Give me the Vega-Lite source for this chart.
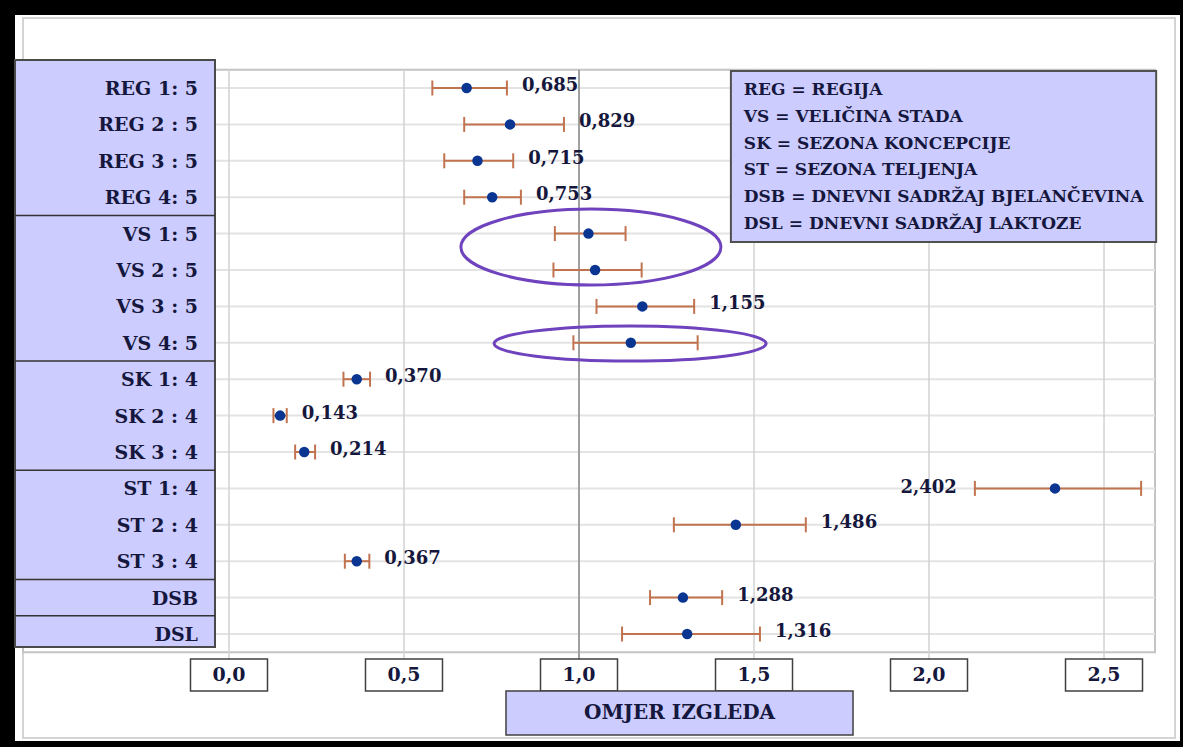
{
  "$schema": "https://vega.github.io/schema/vega-lite/v6.json",
  "width": 1165,
  "height": 726,
  "autosize": {"type": "none"},
  "padding": {"left": 15, "top": 15, "right": 3, "bottom": 6},
  "background": "black",
  "view": {"fill": "white", "stroke": null},
  "config": {"text": {"font": "DejaVu Serif", "fontWeight": "bold", "color": "#15173d"}},
  "datasets": {
    "rows": [
      {"label": "REG  1: 5", "grp": "REG", "or": 0.679, "lo": 0.581, "hi": 0.794, "txt": "0,685"},
      {"label": "REG 2 : 5", "grp": "REG", "or": 0.803, "lo": 0.672, "hi": 0.957, "txt": "0,829"},
      {"label": "REG 3 : 5", "grp": "REG", "or": 0.710, "lo": 0.615, "hi": 0.812, "txt": "0,715"},
      {"label": "REG  4: 5", "grp": "REG", "or": 0.752, "lo": 0.672, "hi": 0.834, "txt": "0,753"},
      {"label": "VS  1: 5", "grp": "VS", "or": 1.027, "lo": 0.931, "hi": 1.133, "txt": ""},
      {"label": "VS  2 : 5", "grp": "VS", "or": 1.046, "lo": 0.927, "hi": 1.179, "txt": ""},
      {"label": "VS  3 : 5", "grp": "VS", "or": 1.181, "lo": 1.050, "hi": 1.329, "txt": "1,155"},
      {"label": "VS  4: 5", "grp": "VS", "or": 1.148, "lo": 0.984, "hi": 1.339, "txt": ""},
      {"label": "SK   1: 4", "grp": "SK", "or": 0.365, "lo": 0.327, "hi": 0.403, "txt": "0,370"},
      {"label": "SK  2 : 4", "grp": "SK", "or": 0.146, "lo": 0.127, "hi": 0.165, "txt": "0,143"},
      {"label": "SK  3 : 4", "grp": "SK", "or": 0.215, "lo": 0.189, "hi": 0.246, "txt": "0,214"},
      {"label": "ST   1: 4", "grp": "ST", "or": 2.360, "lo": 2.131, "hi": 2.606, "txt": "2,402"},
      {"label": "ST  2 : 4", "grp": "ST", "or": 1.448, "lo": 1.271, "hi": 1.648, "txt": "1,486"},
      {"label": "ST  3 : 4", "grp": "ST", "or": 0.365, "lo": 0.331, "hi": 0.401, "txt": "0,367"},
      {"label": "DSB", "grp": "DSB", "or": 1.297, "lo": 1.203, "hi": 1.409, "txt": "1,288"},
      {"label": "DSL", "grp": "DSL", "or": 1.309, "lo": 1.123, "hi": 1.517, "txt": "1,316"}
    ],
    "ticks": [
      {"tick": 0, "text": "0,0"},
      {"tick": 0.5, "text": "0,5"},
      {"tick": 1, "text": "1,0"},
      {"tick": 1.5, "text": "1,5"},
      {"tick": 2, "text": "2,0"},
      {"tick": 2.5, "text": "2,5"}
    ],
    "one": [{}]
  },
  "layer": [
    {
      "data": {"name": "one"},
      "mark": {"type": "rect", "fill": "transparent", "stroke": "#d4d4d4", "strokeWidth": 2},
      "encoding": {
        "x": {"datum": -0.5886, "type": "quantitative", "scale": {"domain": [-0.6114, 2.7171], "nice": false, "zero": false}, "axis": null},
        "x2": {"datum": 2.7029},
        "y": {"datum": "REG  1: 5", "type": "nominal", "bandPosition": -1.423, "axis": null,
              "scale": {"domain": ["REG  1: 5","REG 2 : 5","REG 3 : 5","REG  4: 5","VS  1: 5","VS  2 : 5","VS  3 : 5","VS  4: 5","SK   1: 4","SK  2 : 4","SK  3 : 4","ST   1: 4","ST  2 : 4","ST  3 : 4","DSB","DSL"],
                        "type": "band", "paddingInner": 0, "paddingOuter": 0, "range": [54.8, 637.2]}},
        "y2": {"datum": "DSL", "bandPosition": 3.357}
      }
    },
    {
      "data": {"name": "one"},
      "mark": {"type": "rect", "fill": "white", "stroke": "#c4c4c4", "strokeWidth": 2},
      "encoding": {
        "x": {"datum": -0.5886, "type": "quantitative", "axis": null},
        "x2": {"datum": 2.6457},
        "y": {"datum": "REG  1: 5", "type": "nominal", "bandPosition": 0.001, "axis": null},
        "y2": {"datum": "DSL", "bandPosition": 1}
      }
    },
    {
      "data": {"name": "rows"},
      "mark": {"type": "rule", "color": "#e3e3e3", "strokeWidth": 2},
      "encoding": {
        "x": {"datum": -0.5886, "type": "quantitative", "axis": null},
        "x2": {"datum": 2.6457},
        "y": {"field": "label", "type": "nominal", "axis": null}
      }
    },
    {
      "data": {"name": "ticks"},
      "mark": {"type": "rule"},
      "encoding": {
        "x": {"field": "tick", "type": "quantitative", "axis": null},
        "y": {"datum": "REG  1: 5", "type": "nominal", "bandPosition": 0.001, "axis": null},
        "y2": {"datum": "DSL", "bandPosition": 1.187},
        "color": {"condition": {"test": "datum.tick == 1", "value": "#a0a0a0"}, "value": "#d2d2d2"},
        "strokeWidth": {"condition": {"test": "datum.tick == 1", "value": 2}, "value": 1.5}
      }
    },
    {
      "data": {"name": "rows"},
      "mark": {"type": "rule", "color": "#c0734e", "strokeWidth": 2},
      "encoding": {
        "x": {"field": "lo", "type": "quantitative", "axis": null},
        "x2": {"field": "hi"},
        "y": {"field": "label", "type": "nominal", "axis": null}
      }
    },
    {
      "data": {"name": "rows"},
      "mark": {"type": "tick", "color": "#c0734e", "size": 15, "thickness": 2, "opacity": 1},
      "encoding": {
        "x": {"field": "lo", "type": "quantitative", "axis": null},
        "y": {"field": "label", "type": "nominal", "axis": null}
      }
    },
    {
      "data": {"name": "rows"},
      "mark": {"type": "tick", "color": "#c0734e", "size": 15, "thickness": 2, "opacity": 1},
      "encoding": {
        "x": {"field": "hi", "type": "quantitative", "axis": null},
        "y": {"field": "label", "type": "nominal", "axis": null}
      }
    },
    {
      "data": {"name": "rows"},
      "mark": {"type": "circle", "color": "#0a3591", "size": 110, "opacity": 1},
      "encoding": {
        "x": {"field": "or", "type": "quantitative", "axis": null},
        "y": {"field": "label", "type": "nominal", "axis": null}
      }
    },
    {
      "data": {"name": "one"},
      "mark": {"type": "point", "filled": false, "stroke": "#6f42be", "strokeWidth": 3, "opacity": 1, "size": 67600,
               "shape": "M1,0C1,0.1613,0.5523,0.292,0,0.292C-0.5523,0.292,-1,0.1613,-1,0C-1,-0.1613,-0.5523,-0.292,0,-0.292C0.5523,-0.292,1,-0.1613,1,0Z"},
      "encoding": {
        "x": {"datum": 1.034, "type": "quantitative", "axis": null},
        "y": {"datum": "VS  1: 5", "type": "nominal", "bandPosition": 0.87, "axis": null}
      }
    },
    {
      "data": {"name": "one"},
      "mark": {"type": "point", "filled": false, "stroke": "#6f42be", "strokeWidth": 3, "opacity": 1, "size": 73984,
               "shape": "M1,0C1,0.0712,0.5523,0.129,0,0.129C-0.5523,0.129,-1,0.0712,-1,0C-1,-0.0712,-0.5523,-0.129,0,-0.129C0.5523,-0.129,1,-0.0712,1,0Z"},
      "encoding": {
        "x": {"datum": 1.146, "type": "quantitative", "axis": null},
        "y": {"datum": "VS  4: 5", "type": "nominal", "bandPosition": 0.52, "axis": null}
      }
    },
    {
      "data": {"name": "rows"},
      "transform": [{"filter": "datum.txt != '' && datum.or < 2"}],
      "mark": {"type": "text", "align": "left", "baseline": "middle", "dx": 15, "dy": -2, "fontSize": 18},
      "encoding": {
        "x": {"field": "hi", "type": "quantitative", "axis": null},
        "y": {"field": "label", "type": "nominal", "axis": null},
        "text": {"field": "txt"}
      }
    },
    {
      "data": {"name": "rows"},
      "transform": [{"filter": "datum.or >= 2"}],
      "mark": {"type": "text", "align": "right", "baseline": "middle", "dx": -18, "dy": 0, "fontSize": 18},
      "encoding": {
        "x": {"field": "lo", "type": "quantitative", "axis": null},
        "y": {"field": "label", "type": "nominal", "axis": null},
        "text": {"field": "txt"}
      }
    },
    {
      "data": {"name": "one"},
      "mark": {"type": "rect", "fill": "#ccccff", "stroke": "#505050", "strokeWidth": 2},
      "encoding": {
        "x": {"datum": 1.434, "type": "quantitative", "axis": null},
        "x2": {"datum": 2.649},
        "y": {"datum": "REG  1: 5", "type": "nominal", "bandPosition": 0.03, "axis": null},
        "y2": {"datum": "VS  1: 5", "bandPosition": 0.73}
      }
    },
    {
      "data": {"name": "one"},
      "mark": {"type": "text", "align": "left", "baseline": "middle", "fontSize": 17, "lineHeight": 26.8},
      "encoding": {
        "x": {"datum": 1.471, "type": "quantitative", "axis": null},
        "y": {"datum": "REG  1: 5", "type": "nominal", "bandPosition": 0.555, "axis": null},
        "text": {"value": ["REG = REGIJA", "VS = VELIČINA STADA", "SK = SEZONA KONCEPCIJE", "ST = SEZONA TELJENJA", "DSB = DNEVNI SADRŽAJ BJELANČEVINA", "DSL = DNEVNI SADRŽAJ LAKTOZE"]}
      }
    },
    {
      "data": {"name": "one"},
      "mark": {"type": "rect", "fill": "#ccccff", "stroke": "#4a4a4a", "strokeWidth": 2},
      "encoding": {
        "x": {"datum": -0.6114, "type": "quantitative", "axis": null},
        "x2": {"datum": -0.04},
        "y": {"datum": "REG  1: 5", "type": "nominal", "bandPosition": -0.27, "axis": null},
        "y2": {"datum": "DSL", "bandPosition": 0.86}
      }
    },
    {
      "data": {"name": "rows"},
      "transform": [
        {"window": [{"op": "row_number", "as": "rn"}], "groupby": ["grp"]},
        {"filter": "datum.rn == 1 && datum.grp != 'REG'"}
      ],
      "mark": {"type": "rule", "color": "#333333", "strokeWidth": 1.5},
      "encoding": {
        "x": {"datum": -0.6114, "type": "quantitative", "axis": null},
        "x2": {"datum": -0.04},
        "y": {"field": "label", "type": "nominal", "bandPosition": 0.001, "axis": null}
      }
    },
    {
      "data": {"name": "rows"},
      "mark": {"type": "text", "align": "right", "baseline": "middle", "dy": 1, "fontSize": 19},
      "encoding": {
        "x": {"datum": -0.0886, "type": "quantitative", "axis": null},
        "y": {"field": "label", "type": "nominal", "axis": null},
        "text": {"field": "label"}
      }
    },
    {
      "data": {"name": "ticks"},
      "mark": {"type": "point", "filled": true, "fill": "white", "stroke": "#404040", "strokeWidth": 1.5, "opacity": 1, "size": 5929,
               "shape": "M-1,-0.4156L1,-0.4156L1,0.4156L-1,0.4156Z"},
      "encoding": {
        "x": {"field": "tick", "type": "quantitative", "axis": null},
        "y": {"datum": "DSL", "type": "nominal", "bandPosition": 1.626, "axis": null}
      }
    },
    {
      "data": {"name": "ticks"},
      "mark": {"type": "text", "align": "center", "baseline": "middle", "fontSize": 19},
      "encoding": {
        "x": {"field": "tick", "type": "quantitative", "axis": null},
        "y": {"datum": "DSL", "type": "nominal", "bandPosition": 1.626, "axis": null},
        "text": {"field": "text"}
      }
    },
    {
      "data": {"name": "one"},
      "mark": {"type": "rect", "fill": "#ccccff", "stroke": "#404040", "strokeWidth": 1.5},
      "encoding": {
        "x": {"datum": 0.7914, "type": "quantitative", "axis": null},
        "x2": {"datum": 1.7829},
        "y": {"datum": "DSL", "type": "nominal", "bandPosition": 2.066, "axis": null},
        "y2": {"datum": "DSL", "bandPosition": 3.275}
      }
    },
    {
      "data": {"name": "one"},
      "mark": {"type": "text", "align": "center", "baseline": "middle", "fontSize": 20},
      "encoding": {
        "x": {"datum": 1.2871, "type": "quantitative", "axis": null},
        "y": {"datum": "DSL", "type": "nominal", "bandPosition": 2.67, "axis": null},
        "text": {"value": "OMJER IZGLEDA"}
      }
    }
  ]
}
